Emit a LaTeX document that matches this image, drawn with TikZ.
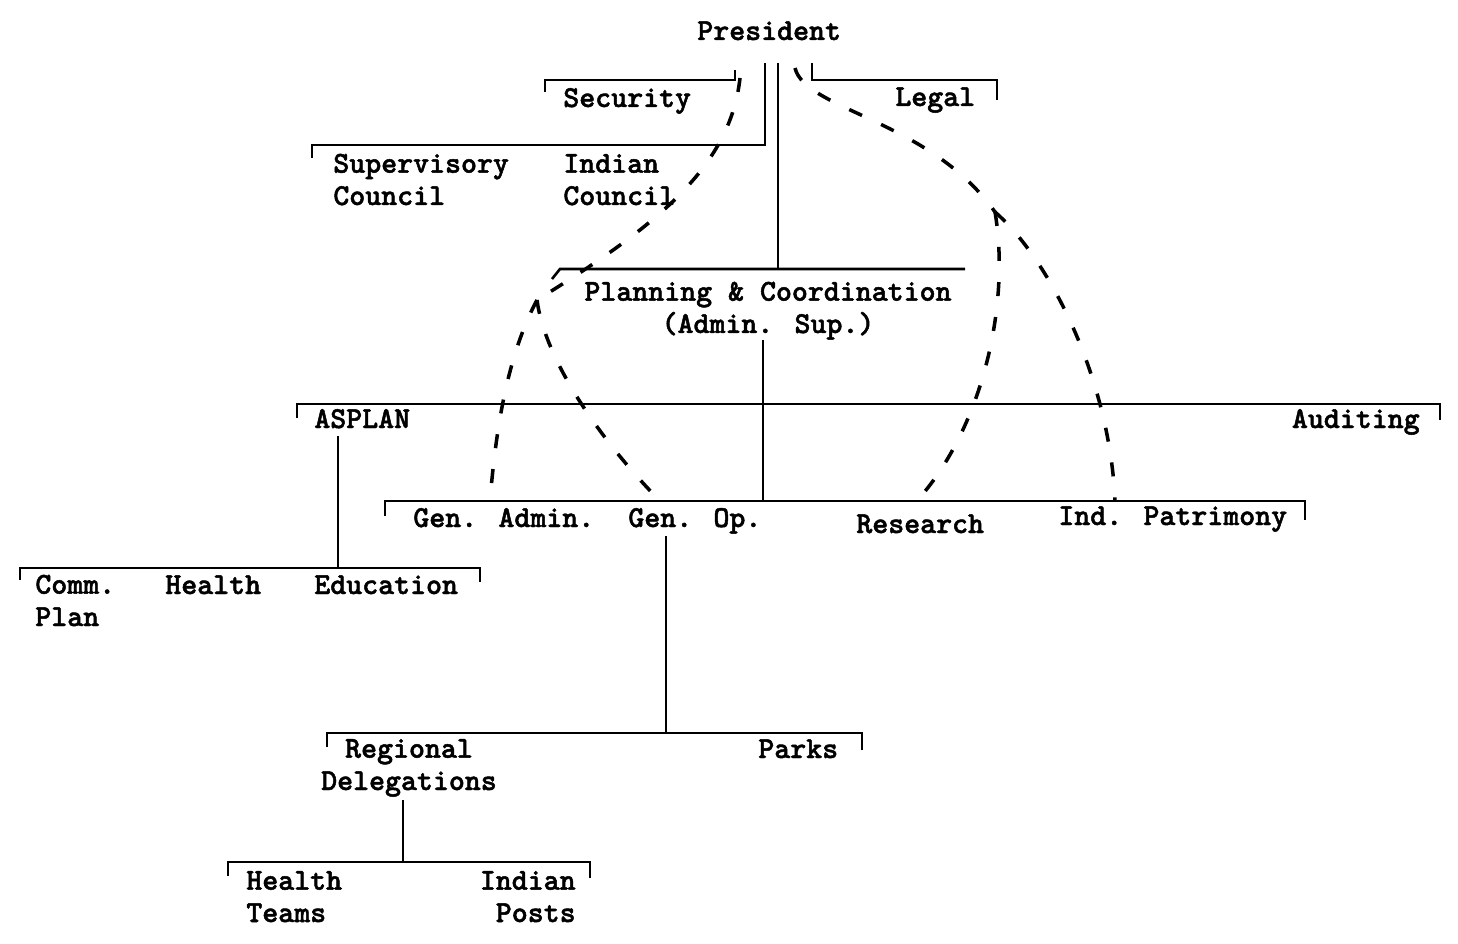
\documentclass[tikz,border=0pt]{standalone}
\usepackage{fontspec}
\newfontfamily\orgtt{lmmonolt10-bold}[Extension=.otf, FakeBold=1.6]
\newcommand{\orgfont}{\fontsize{17.3}{18.4}\selectfont\orgtt}
\begin{document}
\begin{tikzpicture}[x=0.2mm, y=-0.2mm,
  every node/.style={font=\orgfont, inner sep=0pt, anchor=base west},
  orgline/.style={line width=1.5pt},
  dashlink/.style={line width=2pt, dash pattern=on 8pt off 12pt}]
  \useasboundingbox (0,0) rectangle (1458,944);
  % titles
  \node (pres) at (697,40) {President};
  \node (sec) at (563,107) {Security};
  \node (legal) at (895,106) {Legal};
  \node[align=left] (supcoun) at (333,205) {Supervisory\\Council};
  \node[align=left] (indcoun) at (563,205) {Indian\\Council};
  \node[align=center, anchor=base] (plan) at (768,333) {Planning \& Coordination\\(Admin. Sup.)};
  \node (asplan) at (314,428) {ASPLAN};
  \node[anchor=base east] (audit) at (1420,428) {Auditing};
  \node (genadm) at (413,527) {Gen. Admin.};
  \node (genop) at (628,527) {Gen. Op.};
  \node (research) at (856,533) {Research};
  \node (indpat) at (1058,525) {Ind. Patrimony};
  \node[align=left] (comm) at (35,626) {Comm.\\Plan};
  \node (health) at (165,594) {Health};
  \node (educ) at (314,594) {Education};
  \node[align=center, anchor=base] (regdel) at (409,790) {Regional\\Delegations};
  \node (parks) at (758,758) {Parks};
  \node[align=left] (hteams) at (246,922) {Health\\Teams};
  \node[align=right, anchor=base east] (iposts) at (576,922) {Indian\\Posts};
  % bar ends
  \coordinate (presA) at (765,63);
  \coordinate (presB) at (778,63);
  \coordinate (supL) at (312,145);
  \coordinate (supR) at (765,145);
  \coordinate (secL) at (545,80);
  \coordinate (secR) at (735,80);
  \coordinate (legL) at (812,80);
  \coordinate (legR) at (997,80);
  \coordinate (planL) at (560,269);
  \coordinate (planR) at (965,269);
  \coordinate (planC) at (778,269);
  \coordinate (asL) at (297,404);
  \coordinate (asR) at (1440,404);
  \coordinate (commL) at (20,568);
  \coordinate (commR) at (480,568);
  \coordinate (commC) at (338,568);
  \coordinate (genL) at (385,501);
  \coordinate (genR) at (1305,501);
  \coordinate (genC) at (763,501);
  \coordinate (regL) at (327,733);
  \coordinate (regR) at (862,733);
  \coordinate (regC) at (666,733);
  \coordinate (hpL) at (228,862);
  \coordinate (hpR) at (590,862);
  \coordinate (hpC) at (403,862);
  % solid lines
  \draw[orgline] (presA) -- (supR) -- (supL) -- ++(0,13);
  \draw[orgline] (presB) -- (planC);
  \draw[orgline] (secL) ++(0,12) -- (secL) -- (secR) -- ++(0,-10);
  \draw[orgline] (legL) ++(0,-17) -- (legL) -- (legR) -- ++(0,20);
  \draw[orgline] (planL) ++(-8,10) -- (planL) -- (planR);
  \draw[orgline] (763,340) -- (genC);
  \draw[orgline] (asL) ++(0,14) -- (asL) -- (asR) -- ++(0,16);
  \draw[orgline] (338,436) -- (commC);
  \draw[orgline] (commL) ++(0,12) -- (commL) -- (commR) -- ++(0,14);
  \draw[orgline] (genL) ++(0,15) -- (genL) -- (genR) -- ++(0,19);
  \draw[orgline] (666,536) -- (regC);
  \draw[orgline] (regL) ++(0,14) -- (regL) -- (regR) -- ++(0,17);
  \draw[orgline] (403,800) -- (hpC);
  \draw[orgline] (hpL) ++(0,14) -- (hpL) -- (hpR) -- ++(0,16);
  % dashed links
  \coordinate (lsplit) at (537,300);
  \coordinate (rsplit) at (995,212);
  \draw[dashlink] (740,78) .. controls (730,170) and (650,230) .. (lsplit);
  \draw[dashlink] (lsplit) .. controls (505,360) and (495,440) .. (490,501);
  \draw[dashlink] (lsplit) .. controls (545,360) and (600,440) .. (660,501);
  \draw[dashlink] (795,68) .. controls (805,110) and (930,120) .. (rsplit);
  \draw[dashlink] (rsplit) .. controls (1010,300) and (985,420) .. (922,495);
  \draw[dashlink] (rsplit) .. controls (1050,260) and (1110,380) .. (1115,501);
\end{tikzpicture}
\end{document}
